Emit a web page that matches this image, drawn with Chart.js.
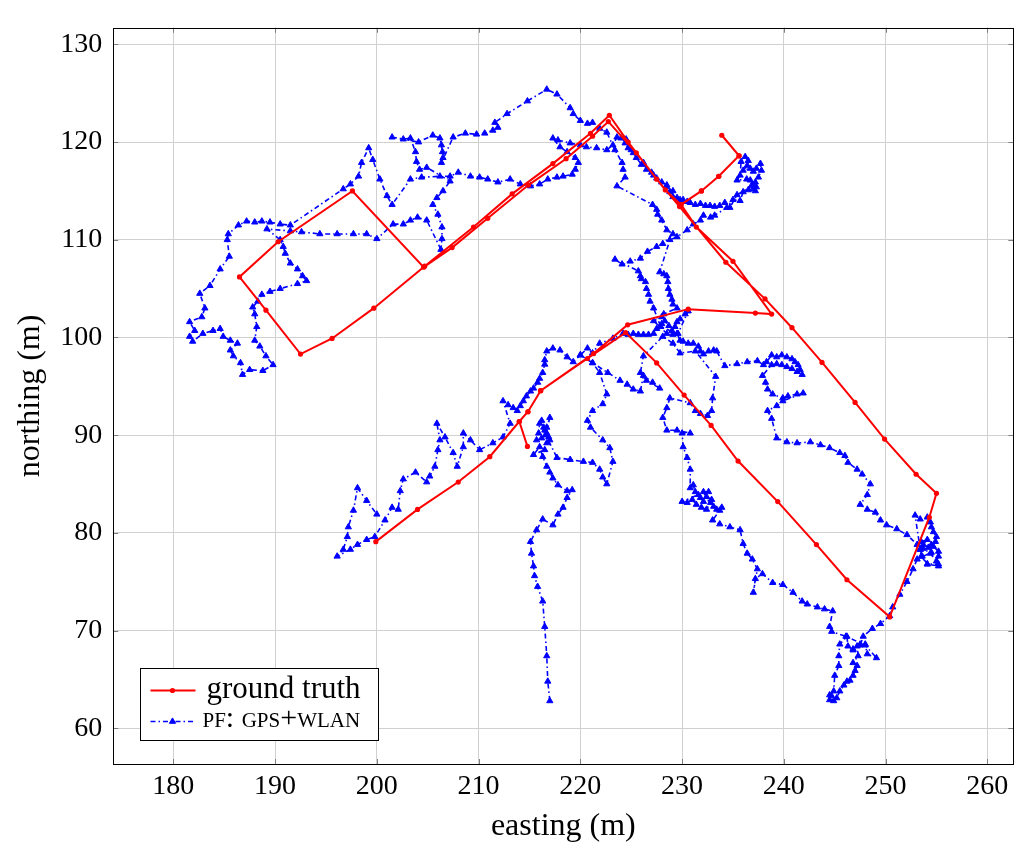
<!DOCTYPE html>
<html>
<head>
<meta charset="utf-8">
<script src="https://cdn.jsdelivr.net/npm/chart.js@4.4.1/dist/chart.umd.min.js"></script>
<style>
  html, body { margin: 0; padding: 0; background: #fff; }
  #plot { display: block; }
</style>
</head>
<body>
<canvas id="plot" width="1021" height="846"></canvas>
<script>
// axis ticks
const eastTicks = [180, 190, 200, 210, 220, 230, 240, 250, 260];
const northTicks = [60, 70, 80, 90, 100, 110, 120, 130];

// ground truth walk (m)
const truthEast = [214.8, 214.0, 214.85, 216.1, 221.3, 224.65, 230.6, 237.2, 238.8, 235.0, 231.4, 229.9,
  231.9, 233.6, 235.6, 233.9, 235.6, 233.6, 231.9, 229.9,
  228.35, 225.5, 222.75, 221.2, 218.6, 214.9, 210.9, 207.4, 204.6, 197.6, 190.3, 186.5, 189.1, 192.5,
  195.6, 199.7, 204.7, 209.5, 213.3, 217.3, 221.0, 222.85, 224.7, 227.5, 229.75, 234.3, 238.15, 240.8,
  243.75, 247.0, 249.9, 253.0, 255.0, 254.3, 250.4, 246.2, 243.2, 239.4, 235.5, 232.85, 230.2, 227.5,
  224.45, 220.7, 216.1, 214.85, 214.0, 211.1, 208.0, 204.0, 199.9];
const truthNorth = [88.85, 91.4, 92.4, 94.55, 98.35, 101.3, 102.9, 102.5, 102.4, 107.8, 111.3, 113.6,
  115.0, 116.5, 118.6, 120.7, 118.6, 116.5, 115.0, 113.6,
  115.1, 118.9, 122.1, 120.6, 118.3, 115.6, 112.2, 109.2, 107.2, 115.0, 109.8, 106.2, 102.8, 98.3,
  99.9, 103.0, 107.3, 111.3, 114.7, 117.8, 120.9, 122.75, 120.0, 116.2, 113.4, 107.7, 103.95, 101.0,
  97.45, 93.35, 89.6, 86.0, 84.05, 81.6, 71.4, 75.2, 78.8, 83.2, 87.35, 91.0, 94.1, 97.4,
  100.5, 97.85, 94.55, 92.4, 91.4, 87.8, 85.2, 82.4, 79.1];

// particle filter estimate (GPS + WLAN), leg by leg
const startEast = [
  217.0, 216.8, 216.7, 216.5, 216.3, 215.8, 215.5, 215.4, 215.2, 215.1, 215.7, 216.3, 217.3, 217.8, 218.3,
  218.7, 219.2, 218.7, 217.8, 217.3, 217.0, 216.7, 216.3,
  216.0, 215.4, 216.5, 216.7, 217.0, 216.9, 216.7, 216.5, 216.4, 216.2, 216.0, 215.9, 215.7, 216.2, 216.7,
  217.0, 216.6,
  217.7, 219.0, 220.3, 221.2, 221.9, 222.2, 222.6, 223.2, 222.9, 222.2, 221.0, 220.7, 221.2, 222.2, 222.6,
  221.9, 221.2, 220.0, 220.7, 221.2, 221.9,
  223.2, 224.2, 224.7, 225.2, 225.7, 226.2, 226.7, 227.2, 227.5, 227.8, 228.0, 228.3, 228.7, 229.0, 229.3,
  229.5, 229.8, 230.3, 230.6, 229.6, 229.1, 228.5, 227.2, 228.0, 228.2];
const startNorth = [
  62.8, 64.8, 67.4, 70.4, 73.0, 74.5, 75.6, 76.6, 77.9, 79.1, 80.3, 81.4, 80.8, 81.9, 82.6,
  83.6, 84.4, 84.3, 84.9, 85.6, 86.2, 86.8, 87.8,
  88.8, 88.0, 88.5, 89.2, 89.5, 89.8, 90.2, 90.5, 90.8, 91.5, 91.2, 90.2, 89.5, 89.7, 90.8,
  91.8, 90.0,
  87.7, 87.5, 87.3, 87.2, 86.5, 85.7, 85.0, 87.3, 88.7, 89.5, 90.8, 91.5, 92.5, 93.2, 94.2,
  96.4, 97.4, 98.2, 98.9, 98.4, 99.4,
  99.9, 100.4, 100.3, 100.4, 100.3, 100.3, 100.3, 100.4, 100.9, 101.1, 101.4, 101.7, 101.2, 100.7, 101.1,
  101.6, 101.9, 102.4, 102.7, 100.4, 100.3, 100.4, 101.7, 102.1, 102.4];

const climbEast = [229.5, 229.1, 229.0, 228.8, 228.65, 228.6, 228.5, 228.2, 227.8, 228.8,
  229.5, 230.5, 231.1, 231.8, 232.1, 232.8, 233.2, 234.4, 235.0, 235.7];
const climbNorth = [103.0, 103.4, 103.9, 104.4, 105.0, 105.7, 106.3, 106.5, 106.7, 110.0,
  110.3, 111.0, 111.6, 112.0, 112.5, 112.3, 112.5, 113.3, 114.1, 114.0];

const spurEast = [236.0, 236.5, 237.2, 237.3, 237.0, 236.85, 237.2, 237.5, 237.8, 237.7,
  237.3, 237.0, 236.7, 236.0, 236.4, 236.5, 236.2, 235.8, 235.7, 235.4,
  236.35, 236.7, 237.0,
  235.4, 234.7, 234.2, 233.7, 233.2, 232.75, 232.3, 231.8, 231.3, 230.8, 230.5, 230.1, 229.8, 229.5];
const spurNorth = [114.9, 115.1, 115.0, 115.4, 115.3, 115.6, 115.9, 116.4, 117.1, 117.8,
  117.3, 117.0, 117.3, 117.1, 117.6, 118.1, 118.5, 118.0, 116.6, 116.1,
  116.2, 116.1, 115.6,
  114.6, 113.3, 113.8, 113.5, 113.4, 113.5, 113.5, 113.7, 113.6, 113.8, 113.9, 114.1, 114.1, 114.3];

const ridgeEast = [229.1, 229.1, 228.8, 228.5, 228.5, 228.0, 227.5, 227.2, 227.0, 226.5,
  226.2, 226.0, 225.5, 225.2, 225.0, 224.7, 224.4, 224.5, 224.0, 223.6,
  223.2, 222.6, 221.6, 220.6, 220.0, 219.0, 217.8, 217.3, 218.0, 218.7,
  219.5, 219.8, 219.5, 219.2, 218.3, 217.7, 216.8, 216.0, 215.1, 214.1,
  213.1, 211.9, 210.9, 210.1, 209.2, 208.0, 207.2, 206.2];
const ridgeNorth = [114.4, 115.0, 114.9, 115.4, 115.6, 115.9, 116.3, 116.6, 116.9, 117.2,
  117.9, 117.7, 118.4, 118.9, 119.2, 119.4, 119.9, 120.3, 120.4, 120.5,
  119.7, 119.2, 119.4, 119.5, 119.7, 119.9, 120.2, 120.4, 119.5, 119.0,
  118.4, 117.9, 117.2, 116.7, 116.5, 116.4, 116.2, 115.7, 115.5, 115.7,
  116.2, 115.9, 116.2, 116.4, 116.5, 116.9, 116.5, 116.5];

const loopEast = [204.4, 203.3, 201.5, 201.0, 200.3, 199.6, 199.2, 198.5, 198.2, 197.4,
  196.7, 191.5, 190.5, 189.5, 188.7, 188.0, 187.2, 186.4, 185.4, 185.3,
  185.5, 184.6, 183.6, 182.6, 183.1, 182.8, 181.6, 182.1, 181.6, 181.9,
  182.9, 183.9, 184.6, 184.9, 185.6, 186.3, 185.6, 185.9, 186.6, 186.8,
  187.5, 188.8, 189.8, 189.1, 188.5, 188.0, 188.2, 188.0, 187.8, 188.3,
  188.7, 189.5, 190.5, 192.2, 193.1, 192.7, 192.2, 191.5, 191.0, 190.8,
  190.5, 189.2, 191.5, 192.6, 194.4, 196.1, 197.7, 199.0, 200.0, 201.6,
  202.6, 203.3, 204.0, 204.9, 206.3, 206.4, 206.4, 206.0, 205.5, 205.9,
  206.5, 207.2];
const loopNorth = [116.4, 116.2, 113.6, 114.5, 116.2, 118.2, 119.4, 117.9, 116.5, 115.7,
  115.2, 111.5, 111.6, 111.8, 111.9, 111.8, 111.9, 111.5, 110.6, 110.0,
  108.3, 107.0, 105.3, 104.5, 103.0, 102.1, 101.6, 100.7, 100.1, 99.6,
  100.4, 100.7, 100.9, 100.1, 99.7, 99.4, 98.7, 98.1, 97.4, 96.2,
  96.7, 96.6, 97.2, 98.1, 99.1, 99.7, 101.1, 102.4, 103.1, 103.7,
  104.4, 104.7, 105.0, 105.5, 105.8, 106.3, 107.0, 107.6, 108.6, 109.3,
  110.0, 111.1, 110.9, 110.8, 110.6, 110.6, 110.6, 110.6, 110.1, 111.6,
  111.6, 112.0, 112.3, 112.0, 109.0, 110.1, 111.3, 112.6, 113.6, 114.3,
  115.0, 116.0];

const northRowEast = [204.9, 204.2, 203.9, 203.8, 203.3, 202.6, 201.5, 204.1, 205.5, 206.2,
  206.35, 206.45, 206.5, 206.35,
  207.5, 208.7, 209.8, 210.6, 211.4, 211.9, 211.6, 212.8, 214.8, 216.7,
  217.7, 219.0, 219.3, 220.0, 220.7, 221.2, 221.9, 222.6];
const northRowNorth = [117.4, 117.2, 118.0, 119.0, 120.4, 120.3, 120.5, 120.0, 120.7, 120.4,
  119.7, 119.0, 118.4, 117.9,
  120.5, 120.9, 120.8, 120.9, 121.2, 121.5, 122.0, 122.9, 124.2, 125.4,
  124.9, 123.5, 122.9, 122.2, 121.9, 122.0, 121.4, 121.0];

const descentEast = [223.4, 224.1, 224.2, 224.4, 223.6, 227.1, 227.5, 227.6, 228.0, 228.5,
  229.1, 228.1, 227.5, 226.6, 225.9, 224.9, 224.1, 223.4,
  225.7, 225.9, 226.0, 226.4, 226.5, 226.7, 226.85, 227.2,
  227.9, 229.5, 229.8, 230.1, 230.6, 231.1, 231.6, 231.8, 232.1, 232.6, 233.1, 233.4];
const descentNorth = [119.2, 117.9, 117.2, 116.4, 115.5, 113.6, 113.1, 112.6, 112.0, 111.0,
  110.6, 109.6, 109.3, 108.8, 108.1, 107.8, 107.5, 108.0,
  106.8, 106.3, 106.0, 105.7, 105.0, 104.4, 103.7, 103.0,
  101.1, 100.4, 99.7, 99.6, 99.4, 99.4, 99.1, 98.6, 98.3, 98.6, 98.7, 98.6];

const eastLegEast = [
  234.2, 235.4, 236.4, 237.4, 238.0, 238.3, 238.8, 239.3, 239.8, 240.3, 240.8, 241.1, 241.4, 241.6, 241.8,
  241.3, 240.8, 240.3, 239.8, 239.3, 238.8,
  237.9, 238.2, 238.4, 238.9, 239.9, 240.4, 241.3, 241.9, 239.9, 239.3, 238.4, 238.8, 239.3, 240.3, 241.3,
  242.6, 243.6, 244.5, 245.5, 246.0, 246.3, 247.2, 247.7, 248.5, 248.2, 247.5, 248.2, 249.0, 249.5, 250.1,
  251.1, 252.1, 253.1, 253.7, 254.4, 255.2, 254.1, 253.6, 253.4,
  252.9, 253.4, 254.1, 254.4, 254.5, 254.7, 255.0, 254.9, 254.5, 254.7, 255.2, 255.2, 255.0, 255.2, 254.1,
  253.5, 253.4, 253.7, 254.1, 253.5, 254.2, 254.5, 253.1,
  252.7, 252.1, 251.4, 250.7, 250.4, 249.5, 248.7, 247.8, 247.5, 246.8, 246.3, 246.2,
  245.5, 245.4, 245.4, 245.0, 244.9, 244.5, 244.7, 244.5, 244.9, 245.2, 245.5, 245.9, 246.2, 246.5, 246.8,
  247.0, 247.2, 246.8, 247.3, 247.2, 246.8, 247.5, 248.0, 248.2, 249.1, 248.0,
  246.1, 244.7, 244.5, 244.8, 244.0, 243.3, 242.3, 241.8, 240.9, 239.9, 238.9, 237.9, 237.2, 237.0, 237.4,
  236.9, 236.4, 236.0, 235.7, 234.7, 233.7, 233.0,
  233.7, 233.9, 233.4, 233.1, 232.8, 232.4, 231.9, 231.4, 231.0, 230.5, 230.0, 231.6, 232.1, 232.9, 232.4,
  232.1, 232.6, 231.8, 231.3, 231.1, 230.8,
  230.8, 230.5, 230.1, 230.0, 230.8, 229.5, 228.5, 228.1, 228.5, 228.8];
const eastLegNorth = [
  97.1, 97.3, 97.5, 97.6, 97.2, 97.5, 98.2, 98.0, 98.2, 98.0, 97.8, 97.5, 97.2, 96.7, 96.2,
  96.5, 96.8, 97.0, 97.2, 97.3, 97.2,
  96.1, 95.4, 94.7, 94.2, 93.8, 94.0, 94.2, 94.3, 93.5, 93.0, 92.5, 91.7, 89.7, 89.3, 89.2,
  89.3, 89.0, 88.7, 88.2, 87.9, 87.2, 86.5, 86.0, 85.0, 83.9, 82.9, 82.4, 82.1, 81.3, 80.8,
  80.4, 79.8, 78.8, 78.4, 77.9, 76.8, 76.8, 77.6, 78.3,
  81.8, 81.4, 81.6, 81.1, 80.6, 80.1, 79.6, 79.1, 78.8, 78.6, 78.1, 77.6, 77.1, 76.6, 76.8,
  77.6, 78.3, 78.8, 79.3, 79.1, 78.5, 78.0, 77.3,
  76.3, 75.0, 73.7, 72.4, 71.5, 70.7, 70.2, 69.4, 68.5, 68.0, 68.4, 69.4,
  68.6, 67.4, 66.4, 65.4, 63.8, 63.4, 63.3, 62.9, 62.8, 63.1, 63.8, 64.4, 64.8, 64.9, 65.4,
  65.9, 66.4, 66.7, 67.4, 68.4, 68.1, 68.6, 68.6, 67.6, 67.2, 68.5,
  69.4, 69.9, 70.4, 72.0, 72.2, 72.4, 72.7, 73.0, 73.9, 74.7, 74.9, 75.8, 75.3, 73.9, 76.3,
  77.3, 77.9, 78.9, 80.3, 80.6, 80.9, 81.3,
  82.3, 82.6, 82.4, 82.7, 83.1, 82.4, 82.6, 82.9, 83.4, 83.1, 83.2, 83.9, 83.2, 83.4, 83.7,
  84.2, 84.2, 83.6, 84.2, 84.9, 84.6,
  86.5, 87.7, 88.8, 90.2, 90.2, 90.5, 90.5, 91.8, 92.8, 93.8];

const returnEast = [230.8, 231.3, 231.8, 232.5, 232.9, 233.0, 233.3, 231.3, 229.8, 229.1,
  228.1, 226.2, 225.9, 226.5, 227.8, 227.1, 226.2, 225.9, 225.2, 224.6,
  223.9, 222.7, 221.2, 220.0];
const returnNorth = [93.3, 92.5, 92.2, 92.0, 92.5, 93.8, 96.0, 98.6, 98.4, 99.4,
  100.1, 98.1, 96.4, 95.6, 94.8, 95.4, 96.1, 94.5, 94.7, 95.2,
  95.6, 96.4, 97.4, 98.2];

const westEast = [219.3, 218.7, 218.0, 217.3, 216.7, 216.5, 216.5, 216.3, 216.0, 215.8,
  215.4, 215.1, 214.7, 214.4, 214.1, 213.8, 213.4, 212.9, 212.4,
  213.1, 212.4, 211.4, 210.1, 209.2, 208.5, 208.5, 207.9, 207.5, 206.7,
  205.9, 206.2, 206.0, 205.7, 205.2, 204.9, 203.8, 202.6, 202.3, 202.1,
  201.5, 200.8, 199.8, 199.0, 198.1, 197.4, 196.1, 196.7, 197.1, 197.2,
  197.7, 198.1, 199.0, 200.0];
const westNorth = [97.5, 98.0, 98.7, 98.9, 98.6, 97.7, 97.25, 96.4, 95.8, 95.4,
  94.8, 94.5, 94.0, 93.5, 93.0, 92.5, 92.8, 93.1, 93.5,
  91.2, 89.8, 89.2, 88.5, 89.5, 90.2, 88.8, 86.8, 88.2, 89.8,
  91.2, 89.5, 88.5, 86.8, 85.8, 85.2, 86.2, 85.5, 84.3, 82.4,
  82.6, 81.3, 79.6, 79.3, 78.8, 78.3, 77.6, 78.3, 79.6, 80.6,
  82.3, 84.6, 83.3, 81.9];

const pfEast = [].concat(startEast, climbEast, spurEast, ridgeEast, loopEast, northRowEast,
  descentEast, eastLegEast, returnEast, westEast);
const pfNorth = [].concat(startNorth, climbNorth, spurNorth, ridgeNorth, loopNorth, northRowNorth,
  descentNorth, eastLegNorth, returnNorth, westNorth);

const serif = "'Liberation Serif', 'Times New Roman', serif";
const RED = 'rgb(255, 0, 0)';
const BLUE = 'rgb(0, 0, 255)';
const PF_DASH = [5, 3, 1.5, 3];

const toPoints = (xs, ys) => xs.map((x, i) => ({ x: x, y: ys[i] }));

// frame, inward ticks and the legend box in the lower left corner
const framePlugin = {
  id: 'framePlugin',
  afterDraw(chart) {
    const { ctx, chartArea: a, scales } = chart;
    ctx.save();
    ctx.lineWidth = 1;
    ctx.strokeStyle = '#7f7f7f';
    ctx.beginPath();
    eastTicks.forEach(v => {
      const px = Math.round(scales.x.getPixelForValue(v)) + 0.5;
      ctx.moveTo(px, a.bottom); ctx.lineTo(px, a.bottom - 5);
      ctx.moveTo(px, a.top); ctx.lineTo(px, a.top + 5);
    });
    northTicks.forEach(v => {
      const py = Math.round(scales.y.getPixelForValue(v)) + 0.5;
      ctx.moveTo(a.left, py); ctx.lineTo(a.left + 5, py);
      ctx.moveTo(a.right, py); ctx.lineTo(a.right - 5, py);
    });
    ctx.stroke();

    ctx.strokeStyle = '#000';
    ctx.strokeRect(Math.round(a.left) + 0.5, Math.round(a.top) + 0.5,
      Math.round(a.right - a.left), Math.round(a.bottom - a.top));

    // legend
    const bx = Math.round(a.left + 27) + 0.5;
    const by = Math.round(a.bottom - 96) + 0.5;
    const bw = 238, bh = 72;
    ctx.fillStyle = '#fff';
    ctx.fillRect(bx, by, bw, bh);
    ctx.strokeStyle = '#000';
    ctx.strokeRect(bx, by, bw, bh);

    const x0 = bx + 10, x1 = bx + 55, xm = bx + 32;
    const y0 = by + 22, y1 = by + 53;
    ctx.strokeStyle = RED;
    ctx.lineWidth = 2;
    ctx.beginPath(); ctx.moveTo(x0, y0); ctx.lineTo(x1, y0); ctx.stroke();
    ctx.fillStyle = RED;
    Chart.helpers.drawPoint(ctx, { pointStyle: 'circle', radius: 2.6, rotation: 0, borderWidth: 0 }, xm, y0);

    ctx.strokeStyle = BLUE;
    ctx.lineWidth = 1.6;
    ctx.setLineDash(PF_DASH);
    ctx.beginPath(); ctx.moveTo(x0, y1); ctx.lineTo(x1, y1); ctx.stroke();
    ctx.setLineDash([]);
    ctx.fillStyle = BLUE;
    ctx.strokeStyle = BLUE;
    ctx.lineWidth = 1;
    Chart.helpers.drawPoint(ctx, { pointStyle: 'triangle', radius: 3.6, rotation: 0, borderWidth: 1 }, xm, y1);

    ctx.fillStyle = '#000';
    ctx.textBaseline = 'alphabetic';
    ctx.textAlign = 'left';
    ctx.font = '31px ' + serif;
    ctx.fillText('ground truth', bx + 66, y0 + 7);
    ctx.font = 'small-caps 30px ' + serif;
    ctx.fillText('pf: gps+wlan', bx + 62, y1 + 5);
    ctx.restore();
  }
};

new Chart(document.getElementById('plot'), {
  type: 'scatter',
  data: {
    datasets: [
      {
        label: 'ground truth',
        data: toPoints(truthEast, truthNorth),
        showLine: true,
        borderColor: RED,
        backgroundColor: RED,
        borderWidth: 2,
        pointStyle: 'circle',
        pointRadius: 2.6,
        pointBorderWidth: 0,
        tension: 0
      },
      {
        label: 'PF: GPS+WLAN',
        data: toPoints(pfEast, pfNorth),
        showLine: true,
        borderColor: BLUE,
        backgroundColor: BLUE,
        borderWidth: 1.6,
        borderDash: PF_DASH,
        pointStyle: 'triangle',
        pointRadius: 3.6,
        pointBorderWidth: 1,
        tension: 0
      }
    ]
  },
  options: {
    responsive: false,
    animation: false,
    devicePixelRatio: 1,
    layout: { padding: { left: 0, right: 7.7, top: 4, bottom: 0 } },
    plugins: { legend: { display: false }, tooltip: { enabled: false } },
    scales: {
      x: {
        type: 'linear',
        min: 174.1,
        max: 262.55,
        afterBuildTicks: s => { s.ticks = eastTicks.map(v => ({ value: v })); },
        afterFit: s => { s.height = 82; },
        ticks: { includeBounds: false, color: '#000', padding: 6, font: { family: serif, size: 28 } },
        grid: { color: '#d0d0d0', lineWidth: 1, drawTicks: false },
        border: { display: false },
        title: { display: true, text: 'easting (m)', color: '#000', padding: { top: 0, bottom: 0 },
          font: { family: serif, size: 32 } }
      },
      y: {
        type: 'linear',
        min: 56.34,
        max: 131.7,
        afterBuildTicks: s => { s.ticks = northTicks.map(v => ({ value: v })); },
        afterFit: s => { s.width = 113.3; },
        ticks: { includeBounds: false, color: '#000', padding: 11, font: { family: serif, size: 28 } },
        grid: { color: '#d0d0d0', lineWidth: 1, drawTicks: false },
        border: { display: false },
        title: { display: true, text: 'northing (m)', color: '#000', padding: { top: 11, bottom: 0 },
          font: { family: serif, size: 32 } }
      }
    }
  },
  plugins: [framePlugin]
});
</script>
</body>
</html>
